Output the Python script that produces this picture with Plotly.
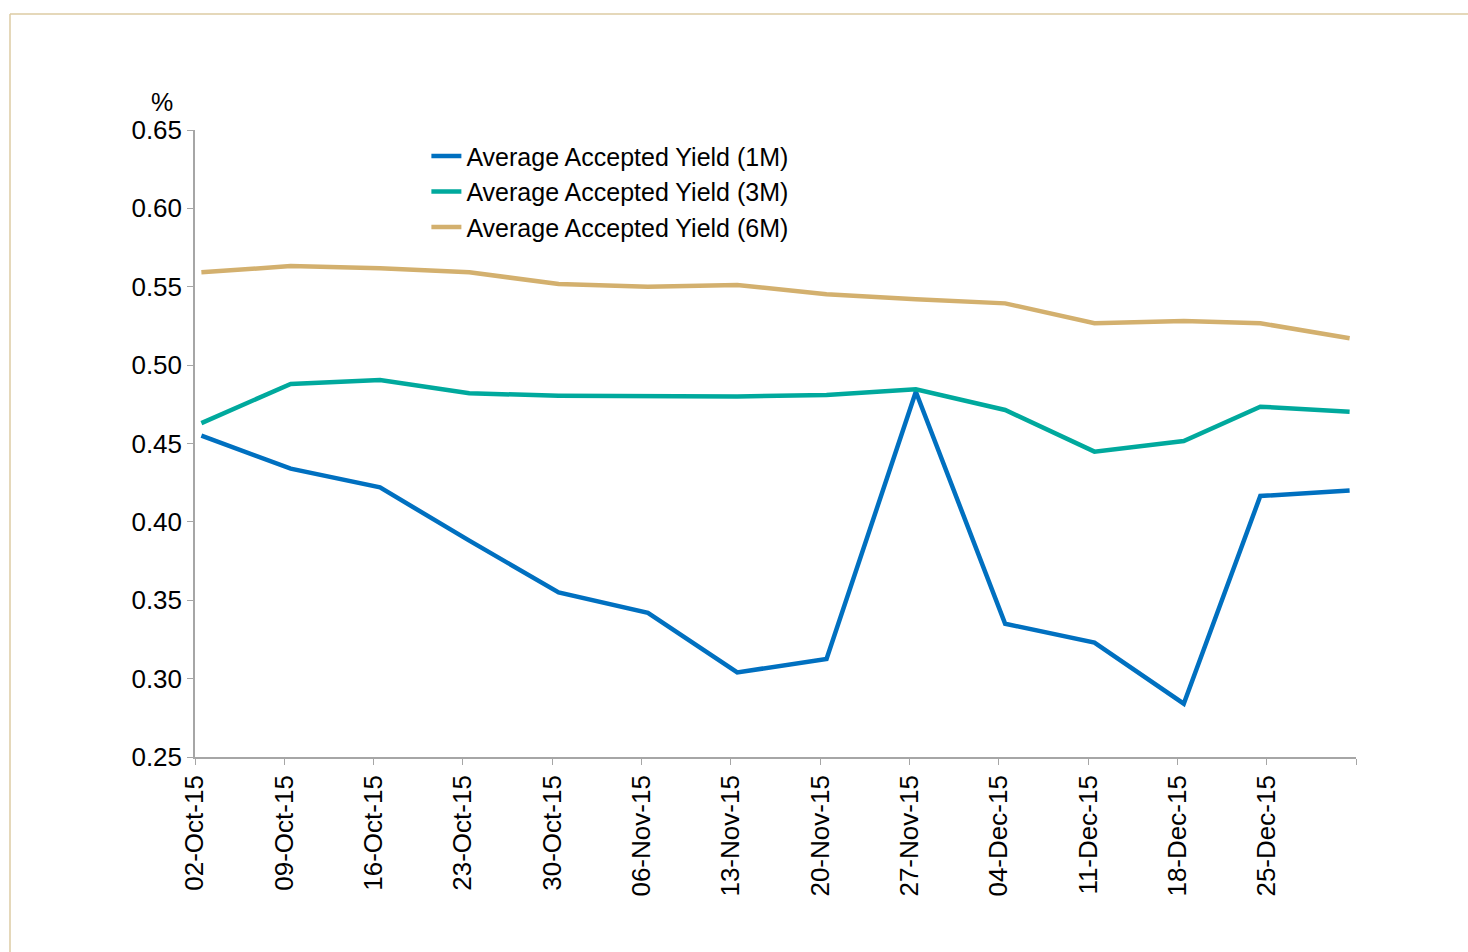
import pandas as pd
import plotly.graph_objects as go

# Weekly T-bill auction dates (Q4 2015)
auction_dates = ["2015-10-02", "2015-10-09", "2015-10-16", "2015-10-23", "2015-10-30",
                 "2015-11-06", "2015-11-13", "2015-11-20", "2015-11-27", "2015-12-04",
                 "2015-12-11", "2015-12-18", "2015-12-24", "2015-12-31"]

# Average accepted yields, %
yield_1m = [0.455, 0.434, 0.422, 0.388, 0.355, 0.342, 0.304, 0.3125, 0.483, 0.335,
            0.323, 0.284, 0.4165, 0.420]
yield_3m = [0.463, 0.488, 0.4905, 0.482, 0.4805, 0.480, 0.480, 0.481, 0.4846, 0.4714,
            0.4448, 0.4516, 0.4735, 0.4703]
yield_6m = [0.5592, 0.5632, 0.5618, 0.5592, 0.5518, 0.550, 0.5511, 0.5452, 0.542, 0.5394,
            0.5267, 0.5281, 0.5267, 0.5171]

series_names = ["Average Accepted Yield (1M)", "Average Accepted Yield (3M)",
                "Average Accepted Yield (6M)"]
series_colors = ["#0070C0", "#00A99D", "#D3B06E"]

# Weekly axis ticks
tick_dates = ["2015-10-02", "2015-10-09", "2015-10-16", "2015-10-23", "2015-10-30",
              "2015-11-06", "2015-11-13", "2015-11-20", "2015-11-27", "2015-12-04",
              "2015-12-11", "2015-12-18", "2015-12-25", "2016-01-01"]
tick_labels = ["02-Oct-15", "09-Oct-15", "16-Oct-15", "23-Oct-15", "30-Oct-15",
               "06-Nov-15", "13-Nov-15", "20-Nov-15", "27-Nov-15", "04-Dec-15",
               "11-Dec-15", "18-Dec-15", "25-Dec-15", ""]

# points sit in the middle of their day, between the daily tick boundaries
x_vals = pd.to_datetime(auction_dates) + pd.Timedelta(hours=12)

FONT = "Liberation Sans, Arial, sans-serif"
AXIS_GREY = "#A6A6A6"
FS = 26

fig = go.Figure()
for name, ys, col in zip(series_names, [yield_1m, yield_3m, yield_6m], series_colors):
    fig.add_trace(go.Scatter(x=x_vals, y=ys, name=name, mode="lines",
                             line=dict(color=col, width=4.5)))

fig.update_layout(
    width=1468, height=952,
    margin=dict(l=195, r=112, t=130, b=195),
    paper_bgcolor="white", plot_bgcolor="white",
    font=dict(family=FONT, color="#000000", size=FS),
    showlegend=True,
    legend=dict(x=0.1993, y=0.995, xanchor="left", yanchor="top",
                bgcolor="rgba(0,0,0,0)", font=dict(size=25, family=FONT),
                tracegroupgap=0, itemwidth=30),
    xaxis=dict(type="date", range=["2015-10-02", "2016-01-01"],
               tickmode="array", tickvals=tick_dates, ticktext=tick_labels,
               tickangle=-90, ticks="outside", ticklen=6, tickcolor=AXIS_GREY,
               showline=True, linecolor=AXIS_GREY, linewidth=1.5,
               showgrid=False, zeroline=False,
               tickfont=dict(size=FS, family=FONT)),
    yaxis=dict(range=[0.25, 0.65], dtick=0.05, tick0=0.25, tickformat=".2f",
               ticks="outside", ticklen=6, tickcolor=AXIS_GREY,
               showline=True, linecolor=AXIS_GREY, linewidth=1.5,
               showgrid=False, zeroline=False,
               tickfont=dict(size=FS, family=FONT)),
)

fig.add_annotation(text="%", xref="paper", yref="paper", x=-0.028, y=1.045,
                   showarrow=False, font=dict(size=25, family=FONT),
                   xanchor="center", yanchor="middle")

# light frame around the chart area
frame_col = "#DCCBA3"
fig.add_shape(type="line", xref="paper", yref="paper",
              x0=(10 - 195) / 1161, x1=(1468 - 195) / 1161,
              y0=(757 - 14) / 627, y1=(757 - 14) / 627,
              line=dict(color=frame_col, width=1.5))
fig.add_shape(type="line", xref="paper", yref="paper",
              x0=(10 - 195) / 1161, x1=(10 - 195) / 1161,
              y0=(757 - 14) / 627, y1=(757 - 960) / 627,
              line=dict(color=frame_col, width=1.5))

fig.write_html("out.html")
